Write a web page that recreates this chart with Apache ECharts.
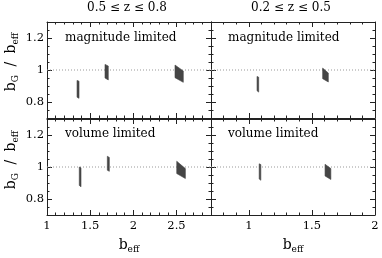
<!DOCTYPE html>
<html><head><meta charset="utf-8">
<script src="https://cdn.jsdelivr.net/npm/echarts@6/dist/echarts.min.js"></script>
<style>html,body{margin:0;padding:0;background:#fff}#c{width:382px;height:258px}</style>
</head><body><div id="c"></div>
<script>
// Each region: [xLeft, xRight, yLeftTop, yLeftBottom, yRightTop, yRightBottom]
const magnitudeHighZ = [
  [1.348, 1.371, 0.935, 0.830, 0.930, 0.823],
  [1.672, 1.710, 1.035, 0.950, 1.025, 0.938],
  [2.483, 2.579, 1.031, 0.952, 0.994, 0.923]
];
const magnitudeLowZ = [
  [1.065, 1.078, 0.960, 0.870, 0.955, 0.862],
  [1.585, 1.630, 1.012, 0.946, 0.981, 0.925]
];
const volumeHighZ = [
  [1.374, 1.394, 1.000, 0.885, 0.995, 0.876],
  [1.699, 1.722, 1.067, 0.980, 1.060, 0.973],
  [2.503, 2.603, 1.036, 0.959, 0.990, 0.928]
];
const volumeLowZ = [
  [1.082, 1.095, 1.020, 0.925, 1.015, 0.917],
  [1.604, 1.650, 1.017, 0.944, 0.990, 0.922]
];
const xRangeHighZ = [1, 2.9];
const xRangeLowZ = [0.7, 2];
const yRange = [0.7, 1.3];
const xTicksHighZ = [1, 1.5, 2, 2.5];
const xTicksLowZ = [1, 1.5, 2];
const yTicks = [0.8, 1, 1.2];
const xMinorStep = 0.1;
const yMinorStep = 0.05;
const columnTitles = ['0.5 ≤ z ≤ 0.8', '0.2 ≤ z ≤ 0.5'];
const rowLabels = ['magnitude limited', 'volume limited'];
const referenceRatio = 1;

const FONT = 'DejaVu Serif';
const AX = '#222';
function steps(range, step) {
  const out = [];
  const n = Math.round((range[1] - range[0]) / step);
  for (let i = 0; i <= n; i++) out.push(Math.round((range[0] + i * step) * 1000) / 1000);
  return out;
}
const grids = [
  {left: 47, top: 22, width: 164, height: 96},
  {left: 211, top: 22, width: 164, height: 96},
  {left: 47, top: 119, width: 164, height: 96},
  {left: 211, top: 119, width: 164, height: 96}
];
const panelData = [magnitudeHighZ, magnitudeLowZ, volumeHighZ, volumeLowZ];
const xAxes = [], yAxes = [], series = [];
grids.forEach((g, gi) => {
  const col = gi % 2, row = Math.floor(gi / 2);
  const xr = col === 0 ? xRangeHighZ : xRangeLowZ;
  const xt = col === 0 ? xTicksHighZ : xTicksLowZ;
  const xm = steps(xr, xMinorStep);
  const ym = steps(yRange, yMinorStep);
  ['bottom', 'top'].forEach(pos => {
    xAxes.push({type: 'value', gridIndex: gi, position: pos, min: xr[0], max: xr[1],
      axisLine: {show: true, onZero: false, lineStyle: {color: AX, width: 1}},
      splitLine: {show: false},
      axisTick: {show: true, inside: true, length: 5, customValues: xt, lineStyle: {color: AX}},
      axisLabel: {show: pos === 'bottom' && row === 1, customValues: xt, margin: 5,
        fontFamily: FONT, fontSize: 11.5, color: '#000'}});
    xAxes.push({type: 'value', gridIndex: gi, position: pos, min: xr[0], max: xr[1],
      axisLine: {show: false, onZero: false}, splitLine: {show: false},
      axisTick: {show: true, inside: true, length: 2.5, customValues: xm, lineStyle: {color: AX}},
      axisLabel: {show: false}});
  });
  ['left', 'right'].forEach(pos => {
    yAxes.push({type: 'value', gridIndex: gi, position: pos, min: yRange[0], max: yRange[1],
      axisLine: {show: true, onZero: false, lineStyle: {color: AX, width: 1}},
      splitLine: {show: false},
      axisTick: {show: true, inside: true, length: 5, customValues: yTicks, lineStyle: {color: AX}},
      axisLabel: {show: pos === 'left' && col === 0, customValues: yTicks, margin: 3,
        fontFamily: FONT, fontSize: 11.5, color: '#000'}});
    yAxes.push({type: 'value', gridIndex: gi, position: pos, min: yRange[0], max: yRange[1],
      axisLine: {show: false, onZero: false}, splitLine: {show: false},
      axisTick: {show: true, inside: true, length: 2.5, customValues: ym, lineStyle: {color: AX}},
      axisLabel: {show: false}});
  });
  const xi = gi * 4, yi = gi * 4;
  series.push({type: 'line', xAxisIndex: xi, yAxisIndex: yi, symbol: 'none', silent: true,
    data: [[xr[0], referenceRatio], [xr[1], referenceRatio]],
    lineStyle: {color: '#999', width: 1, type: [1, 2]}, z: 1});
  series.push({type: 'custom', xAxisIndex: xi, yAxisIndex: yi, data: panelData[gi], z: 3,
    renderItem: (params, api) => {
      const p1 = api.coord([api.value(0), api.value(2)]);
      const p2 = api.coord([api.value(1), api.value(4)]);
      const p3 = api.coord([api.value(1), api.value(5)]);
      const p4 = api.coord([api.value(0), api.value(3)]);
      return {type: 'polygon', shape: {points: [p1, p2, p3, p4]},
        style: {fill: '#454545', stroke: '#454545', lineWidth: 0.6}};
    }});
});
const rich = {
  b: {fontFamily: FONT, fontSize: 14, lineHeight: 16, verticalAlign: 'top', padding: [0, 0, 3, 0], fill: '#000'},
  s: {fontFamily: FONT, fontSize: 9, lineHeight: 10, verticalAlign: 'bottom', fill: '#000'},
  sp: {fontFamily: FONT, fontSize: 14, lineHeight: 16, verticalAlign: 'top', padding: [0, 4, 3, 4], fill: '#000'}
};
const graphic = [];
columnTitles.forEach((t, i) => graphic.push({type: 'text', x: [127, 291][i], y: 8,
  style: {text: t, fontFamily: FONT, fontSize: 12, fill: '#000', align: 'center', verticalAlign: 'middle'}}));
[0, 1, 2, 3].forEach(gi => {
  const col = gi % 2, row = Math.floor(gi / 2);
  graphic.push({type: 'text', x: [65, 228][col], y: [38, 134][row],
    style: {text: rowLabels[row], fontFamily: FONT, fontSize: 12, fill: '#000', align: 'left', verticalAlign: 'middle'}});
});
[129, 293].forEach(x => graphic.push({type: 'text', x: x, y: 246,
  style: {text: '{b|b}{s|eff}', rich: rich, align: 'center', verticalAlign: 'middle'}}));
[62, 160].forEach(y => graphic.push({type: 'text', x: 12, y: y, rotation: Math.PI / 2,
  style: {text: '{b|b}{s|G}{sp| / }{b|b}{s|eff}', rich: rich, align: 'center', verticalAlign: 'middle'}}));

const chart = echarts.init(document.getElementById('c'), null, {renderer: 'canvas'});
chart.setOption({animation: false, grid: grids, xAxis: xAxes, yAxis: yAxes, series: series, graphic: graphic});
</script></body></html>
